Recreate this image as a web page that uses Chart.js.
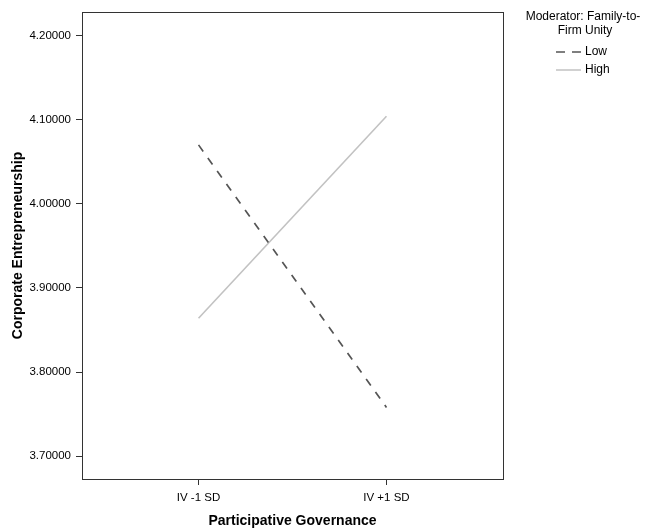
<!DOCTYPE html>
<html>
<head>
<meta charset="utf-8">
<script src="https://cdn.jsdelivr.net/npm/chart.js@4.4.0/dist/chart.umd.min.js"></script>
<style>
  body { margin: 0; background: #fff; }
  canvas { display: block; }
</style>
</head>
<body>
<canvas id="interaction" width="652" height="530"></canvas>
<script>
// data
var xPositions = [0, 1];
var xLabels = ['IV -1 SD', 'IV +1 SD'];
var lowValues = [4.070, 3.758];
var highValues = [3.864, 4.104];
var yTicks = [3.7, 3.8, 3.9, 4.0, 4.1, 4.2];
var legendTitle = ['Moderator: Family-to-', 'Firm Unity'];
var seriesNames = ['Low', 'High'];

var fontFamily = '"Liberation Sans", Arial, sans-serif';

function toPoints(values) {
    return values.map(function (v, i) { return { x: xPositions[i], y: v }; });
}

// box around plot area
var frame = {
    id: 'frame',
    afterDraw: function (chart) {
        var a = chart.chartArea;
        var ctx = chart.ctx;
        ctx.save();
        ctx.strokeStyle = '#333';
        ctx.lineWidth = 1;
        ctx.strokeRect(Math.round(a.left) + 0.5, Math.round(a.top) + 0.5,
            Math.round(a.right - a.left), Math.round(a.bottom - a.top));
        ctx.restore();
    }
};

// spss style legend on the right
var sideLegend = {
    id: 'sideLegend',
    afterDraw: function (chart) {
        var ctx = chart.ctx;
        ctx.save();
        ctx.fillStyle = '#000';
        ctx.font = '12px ' + fontFamily;
        ctx.textAlign = 'center';
        ctx.textBaseline = 'middle';
        ctx.fillText(legendTitle[0], 583, 17);
        ctx.fillText(legendTitle[1], 585, 31);
        chart.data.datasets.forEach(function (ds, i) {
            var y = 52 + i * 18;
            ctx.strokeStyle = ds.borderColor;
            ctx.lineWidth = 1.5;
            ctx.setLineDash(ds.borderDash ? [9, 7] : []);
            ctx.beginPath();
            ctx.moveTo(556, y);
            ctx.lineTo(581, y);
            ctx.stroke();
            ctx.setLineDash([]);
            ctx.textAlign = 'left';
            ctx.fillText(ds.label, 585, y);
        });
        ctx.restore();
    }
};

new Chart(document.getElementById('interaction'), {
    type: 'line',
    data: {
        datasets: [{
            label: seriesNames[0],
            data: toPoints(lowValues),
            borderColor: '#555555',
            borderWidth: 1.7,
            borderDash: [8, 8],
            pointRadius: 0,
            fill: false
        }, {
            label: seriesNames[1],
            data: toPoints(highValues),
            borderColor: '#c2c2c2',
            borderWidth: 1.6,
            pointRadius: 0,
            fill: false
        }]
    },
    options: {
        responsive: false,
        animation: false,
        layout: {
            padding: { left: 6, right: 149, top: 7, bottom: 0 }
        },
        plugins: {
            legend: { display: false },
            tooltip: { enabled: false }
        },
        scales: {
            x: {
                type: 'linear',
                min: -0.62,
                max: 1.62,
                afterBuildTicks: function (scale) {
                    scale.ticks = xPositions.map(function (v) { return { value: v }; });
                },
                afterFit: function (scale) { scale.height = 51; },
                border: { display: false },
                grid: {
                    drawOnChartArea: false,
                    drawTicks: true,
                    tickLength: 6,
                    tickColor: '#333'
                },
                ticks: {
                    padding: 6,
                    color: '#000',
                    font: { family: fontFamily, size: 11.5 },
                    callback: function (v) {
                        var i = xPositions.indexOf(v);
                        return i >= 0 ? xLabels[i] : '';
                    }
                },
                title: {
                    display: true,
                    text: 'Participative Governance',
                    color: '#000',
                    padding: { top: 5, bottom: 0 },
                    font: { family: fontFamily, size: 14, weight: 'bold' }
                }
            },
            y: {
                min: 3.673,
                max: 4.228,
                afterBuildTicks: function (scale) {
                    scale.ticks = yTicks.map(function (v) { return { value: v }; });
                },
                afterFit: function (scale) { scale.width = 76; },
                border: { display: false },
                grid: {
                    drawOnChartArea: false,
                    drawTicks: true,
                    tickLength: 6,
                    tickColor: '#333'
                },
                ticks: {
                    padding: 5,
                    color: '#000',
                    font: { family: fontFamily, size: 11.5 },
                    callback: function (v) { return v.toFixed(5); }
                },
                title: {
                    display: true,
                    text: 'Corporate Entrepreneurship',
                    color: '#000',
                    padding: { top: 4, bottom: 4 },
                    font: { family: fontFamily, size: 14, weight: 'bold' }
                }
            }
        }
    },
    plugins: [frame, sideLegend]
});
</script>
</body>
</html>
